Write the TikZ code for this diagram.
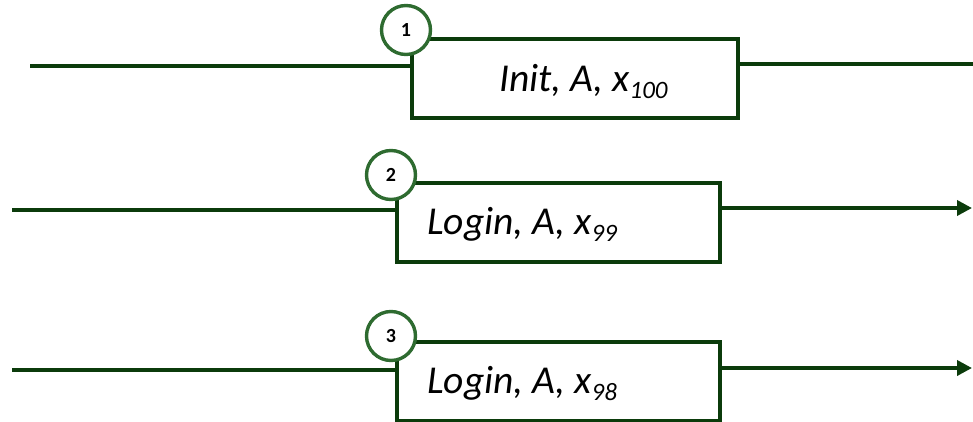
\documentclass[tikz,border=0pt]{standalone}
\usepackage{fontspec}
\setmainfont{Carlito}
\usetikzlibrary{arrows.meta}
\definecolor{boxgreen}{HTML}{0B3B0B}
\definecolor{ringgreen}{HTML}{2E6B30}
\newcommand{\lowidx}[1]{\raisebox{-7pt}{\fontsize{25}{25}\selectfont\itshape #1}}
\tikzset{
  stepbox/.style={draw=boxgreen, line width=3.6pt, fill=white, inner sep=0pt, minimum height=79pt},
  ring/.style={circle, draw=ringgreen, line width=3.4pt, fill=white, minimum size=49pt, inner sep=0pt, font=\fontsize{20}{20}\selectfont\bfseries},
  wire/.style={draw=boxgreen, line width=3.6pt},
  steptext/.style={anchor=base west, inner sep=0pt, font=\fontsize{39.5}{40}\selectfont\itshape},
  tip/.style={-{Triangle[length=15pt,width=15pt]}}
}
\begin{document}
\begin{tikzpicture}[x=1pt,y=-1pt]
  \useasboundingbox (0,0) rectangle (973,422);

  % step 1
  \node[stepbox, minimum width=326pt] (b1) at (575,78.5) {};
  \node[steptext] (t1) at (499,92) {Init, A, x\lowidx{100}};
  \coordinate (in1) at (30,66);
  \coordinate (out1) at (973,64);
  \draw[wire] (in1) -- (in1 -| b1.west);
  \draw[wire] (out1 -| b1.east) -- (out1);
  \node[ring] (c1) at (406,30) {1};

  % step 2
  \node[stepbox, minimum width=323pt] (b2) at (558.5,222.5) {};
  \node[steptext] (t2) at (427,234) {Login, A, x\lowidx{99}};
  \coordinate (in2) at (12,210);
  \coordinate (out2) at (972,208);
  \draw[wire] (in2) -- (in2 -| b2.west);
  \draw[wire, tip] (out2 -| b2.east) -- (out2);
  \node[ring] (c2) at (391,175) {2};

  % step 3
  \node[stepbox, minimum width=323pt] (b3) at (558.5,381.5) {};
  \node[steptext] (t3) at (427,393) {Login, A, x\lowidx{98}};
  \coordinate (in3) at (12,370);
  \coordinate (out3) at (972,368);
  \draw[wire] (in3) -- (in3 -| b3.west);
  \draw[wire, tip] (out3 -| b3.east) -- (out3);
  \node[ring] (c3) at (391,336) {3};
\end{tikzpicture}
\end{document}
